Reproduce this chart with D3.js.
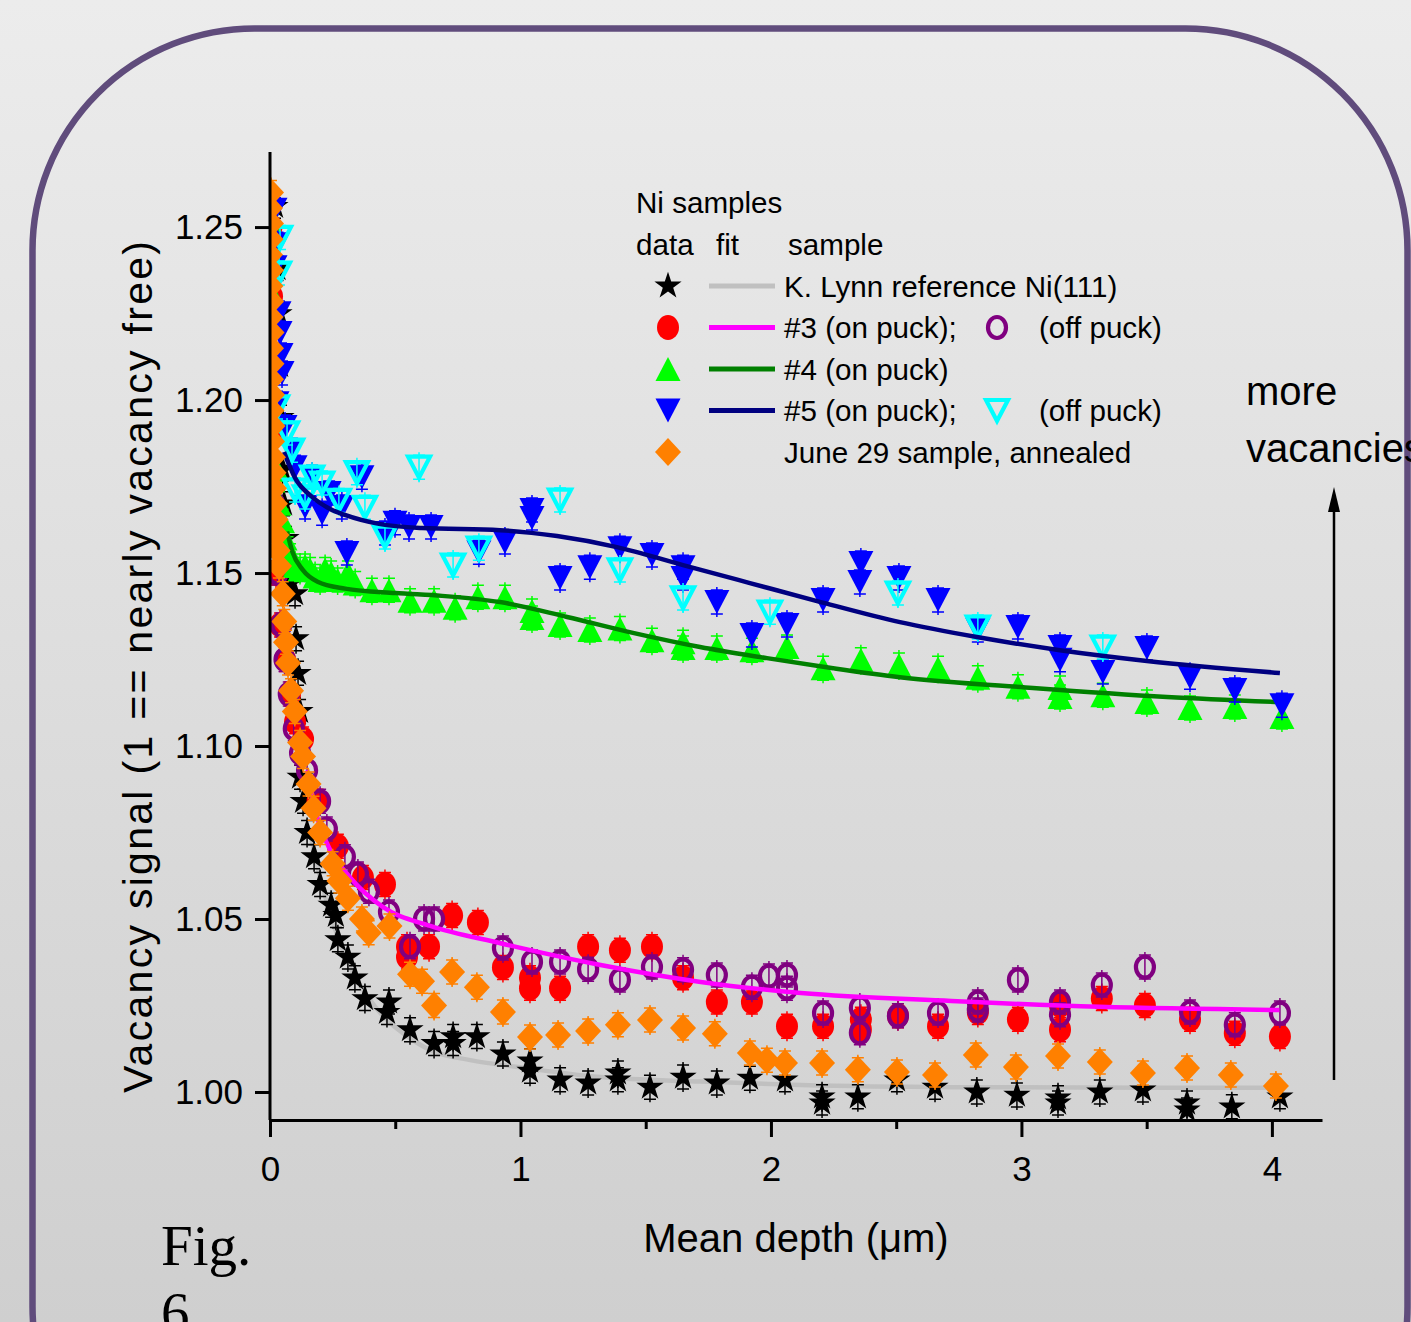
<!DOCTYPE html>
<html>
<head>
<meta charset="utf-8">
<script src="https://cdn.jsdelivr.net/npm/d3@7"></script>
<style>
  body { margin: 0; overflow: hidden; }
  svg text { fill: #000; }
</style>
</head>
<body>
<svg id="chart"></svg>
<script>
var svg_width = 1411;
var svg_height = 1322;
var sans = '"Liberation Sans", Arial, sans-serif';
var serif = '"Liberation Serif", "Times New Roman", serif';

// axis setup
var x_domain = [0, 4.2];
var y_domain = [0.9919, 1.2717];
var x_ticks = [0, 1, 2, 3, 4];
var x_minor_ticks = [0.5, 1.5, 2.5, 3.5];
var y_ticks = [1.00, 1.05, 1.10, 1.15, 1.20, 1.25];

// K. Lynn reference Ni(111): data (stars) and fit (gray)
var lynn_pts = [[0.02,1.256],[0.03,1.238],[0.036,1.225],[0.04,1.21],[0.044,1.195],[0.05,1.18],[0.056,1.17],[0.064,1.16],[0.072,1.152],[0.08,1.147],
  [0.1,1.144],[0.104,1.131],[0.112,1.121],[0.12,1.110],[0.12,1.091],[0.132,1.084],[0.148,1.075],[0.176,1.068],[0.2,1.060],[0.244,1.054],
  [0.263,1.051],[0.271,1.044],[0.311,1.039],[0.339,1.033],[0.379,1.027],[0.475,1.026],[0.467,1.023],[0.559,1.018],[0.655,1.014],[0.731,1.016],
  [0.731,1.014],[0.826,1.016],[0.93,1.011],[1.038,1.009],[1.038,1.006],[1.158,1.0035],[1.27,1.0026],[1.389,1.0055],[1.389,1.0035],[1.517,1.0014],
  [1.649,1.0043],[1.784,1.0026],[1.916,1.004],[2.056,1.0035],[2.204,0.9986],[2.204,0.9968],[2.347,0.9986],[2.503,1.0035],[2.655,1.0014],[2.822,1.0],
  [2.982,0.9991],[3.146,0.9983],[3.146,0.9968],[3.313,1.0],[3.485,1.0006],[3.661,0.9968],[3.661,0.9948],[3.84,0.9957],[4.032,0.9986]];
var lynn_fit = [[0.16,1.075],[0.2,1.062],[0.26,1.047],[0.32,1.036],[0.4,1.0266],[0.45,1.022],[0.54,1.0165],[0.64,1.0121],[0.8,1.0092],
  [0.99,1.0072],[1.32,1.0043],[1.72,1.003],[2.12,1.002],[2.72,1.0014],[4.03,1.0012]];

// sample #3: on puck (red), off puck (purple), fit (magenta)
var s3_on_pts = [[0.006,1.25],[0.008,1.23],[0.01,1.21],[0.012,1.19],[0.016,1.17],[0.024,1.15],[0.04,1.135],[0.06,1.125],[0.08,1.115],[0.1,1.107],
  [0.132,1.102],[0.19,1.084],[0.271,1.071],[0.371,1.062],[0.459,1.060],[0.547,1.039],[0.547,1.042],[0.635,1.042],[0.727,1.051],[0.83,1.049],
  [0.93,1.036],[1.038,1.033],[1.038,1.030],[1.158,1.030],[1.27,1.042],[1.397,1.041],[1.525,1.042],[1.649,1.033],[1.784,1.026],[1.924,1.026],
  [2.064,1.019],[2.208,1.019],[2.359,1.021],[2.359,1.018],[2.507,1.022],[2.667,1.019],[2.826,1.023],[2.986,1.021],[3.154,1.018],[3.154,1.025],
  [3.321,1.027],[3.493,1.025],[3.673,1.021],[3.852,1.017],[4.032,1.016]];
var s3_off_pts = [[0.008,1.2],[0.016,1.17],[0.03,1.15],[0.045,1.135],[0.058,1.125],[0.075,1.115],[0.095,1.105],[0.12,1.098],
  [0.148,1.093],[0.2,1.084],[0.227,1.076],[0.299,1.068],[0.351,1.063],[0.395,1.058],[0.475,1.052],[0.615,1.050],[0.655,1.050],[0.559,1.042],
  [0.93,1.0416],[1.046,1.0376],[1.158,1.0376],[1.27,1.0355],[1.397,1.0324],[1.525,1.0361],[1.649,1.0353],[1.784,1.0338],[1.924,1.0303],
  [1.992,1.0335],[2.064,1.0338],[2.064,1.03],[2.208,1.0228],[2.355,1.0243],[2.355,1.0171],[2.507,1.022],[2.667,1.0228],[2.826,1.026],
  [2.826,1.0237],[2.986,1.0324],[3.154,1.026],[3.154,1.0223],[3.321,1.0309],[3.493,1.0361],[3.673,1.0231],[3.852,1.0194],[4.032,1.0228]];
var s3_fit = [[0.148,1.093],[0.19,1.079],[0.24,1.070],[0.32,1.062],[0.45,1.0535],[0.64,1.048],[0.92,1.043],[1.32,1.0367],[1.72,1.0318],
  [2.12,1.0286],[2.72,1.0263],[3.31,1.0246],[4.03,1.0237]];

// sample #4: on puck (green), fit (dark green)
var s4_pts = [[0.01,1.25],[0.012,1.23],[0.016,1.21],[0.02,1.195],[0.026,1.18],[0.036,1.17],[0.05,1.165],[0.06,1.16],[0.07,1.157],[0.08,1.155],
  [0.1,1.152],[0.12,1.151],[0.14,1.152],[0.16,1.151],[0.18,1.149],[0.2,1.148],[0.22,1.151],[0.244,1.150],[0.27,1.148],[0.311,1.150],
  [0.34,1.147],[0.407,1.145],[0.475,1.145],[0.559,1.142],[0.655,1.142],[0.739,1.140],[0.83,1.143],[0.938,1.143],[1.046,1.139],[1.046,1.137],
  [1.158,1.135],[1.277,1.1335],[1.397,1.134],[1.525,1.1306],[1.649,1.130],[1.649,1.1283],[1.784,1.1283],[1.924,1.1277],[2.064,1.1286],
  [2.208,1.1225],[2.359,1.1249],[2.511,1.1234],[2.667,1.1225],[2.826,1.1197],[2.986,1.1171],[3.154,1.1168],[3.154,1.1142],[3.325,1.1147],
  [3.501,1.1127],[3.673,1.111],[3.852,1.1113],[4.04,1.1084]];
var s4_fit = [[0.068,1.162],[0.09,1.156],[0.13,1.151],[0.19,1.1475],[0.3,1.1455],[0.5,1.1442],[0.687,1.1434],[0.918,1.1416],[1.186,1.1373],
  [1.449,1.1327],[1.717,1.1286],[1.984,1.1254],[2.248,1.1225],[2.515,1.1199],[3.046,1.1168],[3.581,1.1142],[4.032,1.1127]];

// sample #5: on puck (blue), off puck (cyan), fit (navy)
var s5_on_pts = [[0.02,1.255],[0.03,1.245],[0.02,1.2384],[0.036,1.2251],[0.04,1.2194],[0.044,1.213],[0.048,1.2078],[0.028,1.1991],[0.06,1.1922],
  [0.088,1.1855],[0.1,1.1806],[0.168,1.1777],[0.14,1.1691],[0.208,1.1673],[0.236,1.1731],[0.287,1.1691],[0.367,1.1777],[0.307,1.1558],
  [0.459,1.1616],[0.499,1.1645],[0.555,1.1633],[0.643,1.1633],[0.834,1.156],[0.938,1.159],[1.046,1.1682],[1.046,1.1659],[1.158,1.1486],
  [1.277,1.1517],[1.397,1.1572],[1.525,1.1552],[1.649,1.1517],[1.649,1.1486],[1.784,1.1416],[1.924,1.1321],[2.064,1.135],[2.208,1.1422],
  [2.359,1.1529],[2.355,1.1474],[2.511,1.1486],[2.667,1.1422],[2.826,1.1335],[2.986,1.1344],[3.154,1.1286],[3.154,1.1249],[3.325,1.1214],
  [3.501,1.1283],[3.673,1.1199],[3.852,1.1162],[4.04,1.1118]];
var s5_off_pts = [[0.04,1.247],[0.036,1.2367],[0.028,1.198],[0.068,1.1905],[0.088,1.1855],[0.1,1.174],[0.14,1.172],[0.168,1.1777],[0.208,1.176],
  [0.275,1.171],[0.347,1.179],[0.379,1.169],[0.459,1.1604],[0.595,1.1806],[0.731,1.1523],[0.834,1.1572],[1.158,1.1711],[1.397,1.1509],
  [1.649,1.1428],[1.996,1.1387],[2.507,1.1442],[2.826,1.1344],[3.325,1.1286]];
var s5_fit = [[0.056,1.185],[0.1,1.1775],[0.168,1.172],[0.24,1.1685],[0.299,1.1668],[0.435,1.1642],[0.607,1.163],[0.918,1.1624],[1.146,1.1607],
  [1.385,1.1575],[1.649,1.1523],[1.916,1.1471],[2.184,1.1419],[2.515,1.1358],[2.822,1.1315],[3.154,1.1277],[3.501,1.1246],[4.032,1.1211]];

// June 29 sample, annealed (orange)
var june_pts = [[0.004,1.260],[0.0,1.2555],[0.004,1.251],[0.002,1.2465],[0.0,1.242],[0.004,1.2375],[0.002,1.233],[0.004,1.2285],[0.002,1.224],
  [0.006,1.2195],[0.004,1.215],[0.006,1.2105],[0.004,1.206],[0.008,1.2015],[0.006,1.197],[0.01,1.1925],[0.008,1.188],[0.012,1.1835],
  [0.014,1.179],[0.016,1.1745],[0.02,1.170],[0.022,1.1655],[0.026,1.161],[0.03,1.1565],[0.036,1.152],
  [0.051,1.144],[0.057,1.136],[0.064,1.130],[0.072,1.124],[0.084,1.116],[0.099,1.110],[0.12,1.101],[0.132,1.097],[0.154,1.089],[0.174,1.082],
  [0.2,1.075],[0.25,1.066],[0.277,1.061],[0.311,1.056],[0.367,1.050],[0.394,1.046],[0.477,1.048],[0.559,1.034],[0.607,1.032],[0.655,1.025],
  [0.727,1.0347],[0.826,1.0303],[0.93,1.0231],[1.038,1.0159],[1.15,1.0165],[1.27,1.0176],[1.389,1.0194],[1.517,1.0208],[1.649,1.0185],
  [1.776,1.0168],[1.916,1.0113],[1.984,1.0092],[2.056,1.0084],[2.204,1.0084],[2.347,1.0064],[2.503,1.0058],[2.655,1.0049],[2.818,1.0107],
  [2.978,1.0072],[3.146,1.0104],[3.313,1.0087],[3.485,1.0055],[3.661,1.0069],[3.836,1.0049],[4.016,1.0017]];

var legend_labels = ["K. Lynn reference Ni(111)", "#3 (on puck);", "#4 (on puck)", "#5 (on puck);", "June 29 sample, annealed"];
var off_puck_label = "(off puck)";

/*
* marker shapes, all centred on (0,0)
*/
function ellipse_path(rx, ry)  {
  return "M" + (-rx) + ",0A" + rx + "," + ry + " 0 1,0 " + rx + ",0A" + rx + "," + ry + " 0 1,0 " + (-rx) + ",0Z";
}
var shapes = {
  'star': d3.symbol(d3.symbolStar, 230)(),
  'dot': ellipse_path(11, 12.5),
  'ring': ellipse_path(9, 10.5),
  'up': "M0,-12L12.5,12L-12.5,12Z",
  'down': "M0,12L12.5,-12L-12.5,-12Z",
  'down_open': "M0,10.5L11,-10.5L-11,-10.5Z",
  'diamond': "M0,-14L13,0L0,14L-13,0Z"
};

var series = [
  {'pts': lynn_pts, 'shape': 'star', 'fill': '#000000', 'stroke': 'none', 'err': '#000000'},
  {'pts': s3_on_pts, 'shape': 'dot', 'fill': '#ff0000', 'stroke': 'none', 'err': '#ff0000'},
  {'pts': s3_off_pts, 'shape': 'ring', 'fill': 'none', 'stroke': '#800080', 'err': '#800080'},
  {'pts': s4_pts, 'shape': 'up', 'fill': '#00ff00', 'stroke': 'none', 'err': '#00ff00'},
  {'pts': s5_on_pts, 'shape': 'down', 'fill': '#0000ff', 'stroke': 'none', 'err': '#0000ff'},
  {'pts': s5_off_pts, 'shape': 'down_open', 'fill': 'none', 'stroke': '#00ffff', 'err': '#00ffff'},
  {'pts': june_pts, 'shape': 'diamond', 'fill': '#ff8000', 'stroke': 'none', 'err': '#ff8000'}
];
var fits = [
  {'pts': lynn_fit, 'color': '#c0c0c0', 'after': 0},
  {'pts': s3_fit, 'color': '#ff00ff', 'after': 2},
  {'pts': s4_fit, 'color': '#008000', 'after': 3},
  {'pts': s5_fit, 'color': '#000080', 'after': 5}
];

var svg = d3.select('#chart')
  .attr('width', svg_width)
  .attr('height', svg_height);

// background and rounded frame
var defs = svg.append('defs');
var grad = defs.append('linearGradient').attr('id', 'bg').attr('x1', 0).attr('y1', 0).attr('x2', 0).attr('y2', 1);
grad.append('stop').attr('offset', '0%').attr('stop-color', '#ececec');
grad.append('stop').attr('offset', '100%').attr('stop-color', '#cfcfcf');
svg.append('rect').attr('width', svg_width).attr('height', svg_height).attr('fill', 'url(#bg)');
svg.append('rect')
  .attr('x', 32.5).attr('y', 28.5)
  .attr('width', 1375).attr('height', 1500)
  .attr('rx', 222).attr('ry', 222)
  .attr('fill', 'none')
  .attr('stroke', '#604c7c')
  .attr('stroke-width', 6.5);

var xScale = d3.scaleLinear().domain(x_domain).range([270, 1322]);
var yScale = d3.scaleLinear().domain(y_domain).range([1120, 152]);

defs.append('clipPath').attr('id', 'plotclip')
  .append('rect').attr('x', 270).attr('y', 140).attr('width', 1052).attr('height', 980);

var plot = svg.append('g').attr('clip-path', 'url(#plotclip)');

var fit_line = d3.line()
  .x(function(d) {return(xScale(d[0]));})
  .y(function(d) {return(yScale(d[1]));})
  .curve(d3.curveMonotoneX);

function draw_fit(f)  {
  plot.append('path')
    .datum(f['pts'])
    .attr('d', fit_line)
    .attr('fill', 'none')
    .attr('stroke', f['color'])
    .attr('stroke-width', 4.5);
}

var err_px = 12;
function draw_series(s)  {
  var g = plot.append('g');
  var pts = g.selectAll('g.pt')
    .data(s['pts'])
    .enter()
    .append('g')
    .classed('pt', true)
    .attr('transform', function(d) {return('translate(' + xScale(d[0]) + ',' + yScale(d[1]) + ')');});
  // small error bars behind markers
  pts.append('path')
    .attr('d', 'M0,' + (-err_px - 3) + 'V' + (err_px + 3) + 'M-6,' + (-err_px) + 'H6M-6,' + err_px + 'H6')
    .attr('stroke', s['err'])
    .attr('stroke-width', 1.5)
    .attr('fill', 'none');
  pts.append('path')
    .attr('d', shapes[s['shape']])
    .attr('fill', s['fill'])
    .attr('stroke', s['stroke'])
    .attr('stroke-width', s['stroke'] == 'none' ? 0 : 4.2);
}

draw_fit(fits[0]);
for(var i = 0; i < series.length; i++)  {
  draw_series(series[i]);
  fits.forEach(function(f) {
    if(f['after'] == i && i > 0) draw_fit(f);
  });
}

// axes
var x_axis = svg.append('g')
  .attr('transform', 'translate(0,1120)')
  .call(d3.axisBottom(xScale).tickValues(x_ticks).tickFormat(d3.format('d')).tickSize(17).tickSizeOuter(0).tickPadding(19));
var x_minor = svg.append('g')
  .attr('transform', 'translate(0,1120)')
  .call(d3.axisBottom(xScale).tickValues(x_minor_ticks).tickFormat('').tickSize(9).tickSizeOuter(0));
var y_axis = svg.append('g')
  .attr('transform', 'translate(270,0)')
  .call(d3.axisLeft(yScale).tickValues(y_ticks).tickFormat(d3.format('.2f')).tickSize(15).tickSizeOuter(0).tickPadding(12));

[x_axis, x_minor, y_axis].forEach(function(a) {
  a.select('.domain').attr('stroke-width', 3).attr('stroke', '#000');
  a.selectAll('.tick line').attr('stroke-width', 3).attr('stroke', '#000');
  a.selectAll('.tick text')
    .attr('font-size', 35)
    .style('font-family', sans)
    .attr('fill', '#000');
});
x_minor.select('.domain').remove();
// y axis line reaches the top at y=152
y_axis.select('.domain').attr('d', 'M0,1120V152');

// axis titles
svg.append('text')
  .attr('transform', 'translate(152,667) rotate(-90)')
  .attr('text-anchor', 'middle')
  .style('font-family', sans)
  .attr('font-size', 41)
  .attr('textLength', 852)
  .attr('lengthAdjust', 'spacing')
  .text('Vacancy signal (1 == nearly vacancy free)');
svg.append('text')
  .attr('x', 796).attr('y', 1252)
  .attr('text-anchor', 'middle')
  .style('font-family', sans)
  .attr('font-size', 40)
  .text('Mean depth (\u03bcm)');

// legend
var legend = svg.append('g').style('font-family', sans).attr('font-size', 29.6);
legend.append('text').attr('x', 636).attr('y', 213).text('Ni samples');
legend.append('text').attr('x', 636).attr('y', 255).text('data');
legend.append('text').attr('x', 716).attr('y', 255).text('fit');
legend.append('text').attr('x', 788).attr('y', 255).text('sample');

var legend_rows = [
  {'s': series[0], 'fit': '#c0c0c0', 'off': null},
  {'s': series[1], 'fit': '#ff00ff', 'off': series[2]},
  {'s': series[3], 'fit': '#008000', 'off': null},
  {'s': series[4], 'fit': '#000080', 'off': series[5]},
  {'s': series[6], 'fit': null, 'off': null}
];
var row_y = d3.scaleLinear().domain([0, 4]).range([286, 452]);
legend_rows.forEach(function(r, i) {
  var cy = row_y(i);
  legend.append('path')
    .attr('transform', 'translate(668,' + cy + ')')
    .attr('d', shapes[r['s']['shape']])
    .attr('fill', r['s']['fill']);
  if(r['fit'])  {
    legend.append('line')
      .attr('x1', 709).attr('x2', 775).attr('y1', cy).attr('y2', cy)
      .attr('stroke', r['fit']).attr('stroke-width', 5);
  }
  legend.append('text').attr('x', 784).attr('y', cy + 10.5).text(legend_labels[i]);
  if(r['off'])  {
    legend.append('path')
      .attr('transform', 'translate(997,' + cy + ')')
      .attr('d', shapes[r['off']['shape']])
      .attr('fill', 'none')
      .attr('stroke', r['off']['stroke'])
      .attr('stroke-width', 4.2);
    legend.append('text').attr('x', 1039).attr('y', cy + 10.5).text(off_puck_label);
  }
});

// "more vacancies" arrow
var note = svg.append('g').style('font-family', sans).attr('font-size', 40);
note.append('text').attr('x', 1246).attr('y', 405).text('more');
note.append('text').attr('x', 1246).attr('y', 462).text('vacancies');
svg.append('line')
  .attr('x1', 1334).attr('x2', 1334).attr('y1', 1080).attr('y2', 505)
  .attr('stroke', '#000').attr('stroke-width', 2.5);
svg.append('path')
  .attr('d', 'M1334,487L1340,512L1328,512Z')
  .attr('fill', '#000');

// figure caption
var caption = svg.append('g').style('font-family', serif).attr('font-size', 57);
caption.append('text').attr('x', 161).attr('y', 1265).text('Fig.');
caption.append('text').attr('x', 161).attr('y', 1332).text('6');
</script>
</body>
</html>
